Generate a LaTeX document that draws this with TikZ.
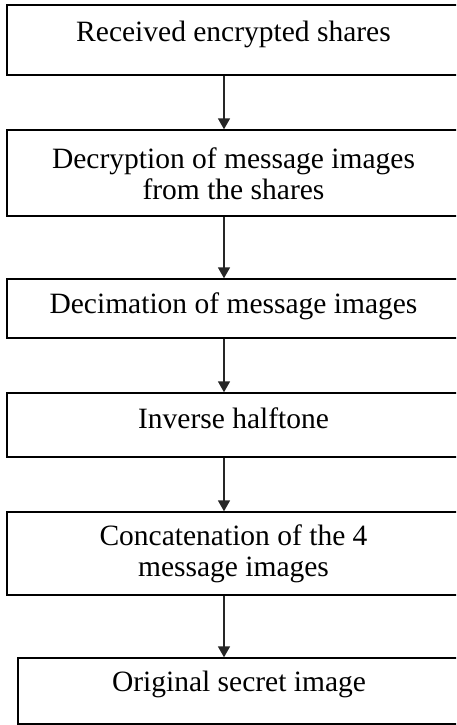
\documentclass[tikz,border=0pt]{standalone}
\usepackage{fontspec}
\setmainfont{Liberation Serif}
\usetikzlibrary{arrows.meta}
\begin{document}
\begin{tikzpicture}[x=1pt,y=-1pt,
  box/.style={draw=black,line width=1.4pt,rectangle,inner sep=0pt,minimum width=453pt},
  lbl/.style={align=center,font=\fontsize{29.5}{31}\selectfont,inner sep=0pt},
  conn/.style={draw=black!85,line width=1.6pt,-{Triangle[width=12pt,length=11pt]}}]
\clip (0,0) rectangle (456,725);
\fill[white] (0,0) rectangle (456,725);
\coordinate (ax) at (224,0);
\node[box,minimum height=70pt] (b1) at (233.5,40) {};
\node[lbl] (t1) at (233.5,34) {Received encrypted shares};
\node[box,minimum height=86pt] (b2) at (233.5,173) {};
\node[lbl] (t2) at (233.5,174) {Decryption of message images\\from the shares};
\node[box,minimum height=59pt] (b3) at (233.5,308.5) {};
\node[lbl] (t3) at (233.5,306) {Decimation of message images};
\node[box,minimum height=64pt] (b4) at (233.5,425) {};
\node[lbl] (t4) at (233.5,418) {Inverse halftone};
\node[box,minimum height=83pt] (b5) at (233.5,553.5) {};
\node[lbl] (t5) at (233.5,554) {Concatenation of the 4\\message images};
\node[box,minimum height=66pt,minimum width=442pt] (b6) at (239,691) {};
\node[lbl] (t6) at (239,684) {Original secret image};
\draw[conn] (b1.south -| ax) -- (b2.north -| ax);
\draw[conn] (b2.south -| ax) -- (b3.north -| ax);
\draw[conn] (b3.south -| ax) -- (b4.north -| ax);
\draw[conn] (b4.south -| ax) -- (b5.north -| ax);
\draw[conn] (b5.south -| ax) -- (b6.north -| ax);
\end{tikzpicture}
\end{document}
